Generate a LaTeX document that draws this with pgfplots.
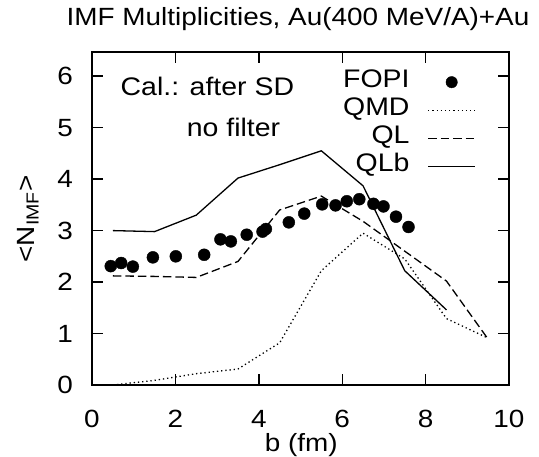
\documentclass[border=0pt]{standalone}
\usepackage{fontspec}
\setmainfont{Liberation Sans}[FakeStretch=1.12]
\usepackage{pgfplots}
\pgfplotsset{compat=1.18}
\begin{document}
\begin{tikzpicture}
\begin{axis}[
  name=ax,
  scale only axis,
  width=417bp, height=333bp,
  xmin=0, xmax=10, ymin=0, ymax=6.47,
  xtick={0,2,4,6,8,10}, ytick={0,1,2,3,4,5,6},
  minor tick num=0,
  tick align=inside,
  major tick length=11bp,
  axis line style={line width=1.5bp},
  every tick/.style={line width=1.4bp, black},
  /pgf/number format/assume math mode=true,
  tick label style={font=\fontsize{25}{30}\selectfont, inner sep=0pt},
  xticklabel style={anchor=base, yshift=-42bp},
  yticklabel style={anchor=east, xshift=-19bp},
  xlabel={b (fm)},
  ylabel={<N\textsubscript{IMF}>},
  label style={font=\fontsize{25}{30}\selectfont, inner sep=0pt},
  xlabel style={at={(rel axis cs:0.502,0)}, anchor=base, yshift=-66bp},
  ylabel style={at={(rel axis cs:-0.1367,0.4985)}, anchor=base},
  title={IMF Multiplicities, Au(400 MeV/A)+Au},
  title style={font=\fontsize{25}{30}\selectfont, inner sep=0pt, at={(rel axis cs:0.494,1)}, anchor=base, yshift=21bp},
  legend style={draw=none, fill=none, inner sep=0pt, at={(rel axis cs:0.9209,0.952)}, anchor=north east,
    font=\fontsize{25.5}{30}\selectfont, row sep=0pt, column sep=18bp,
    nodes={inner sep=0pt, text height=19bp, text depth=9bp}},
  legend cell align=right,
  legend plot pos=right,
  legend image code/.code={\draw[#1] (0bp,0bp) -- (47bp,0bp);},
]
\addplot[only marks, mark=*, mark size=6bp, black,
  legend image code/.code={\fill[black] (23.5bp,0bp) circle (5.7bp); \path[draw=none, fill=none] (0bp,0bp) rectangle (47bp,0.1bp);}]
coordinates {
(0.45,2.31)(0.70,2.37)(0.98,2.30)(1.46,2.48)(2.01,2.50)(2.69,2.53)
(3.08,2.83)(3.33,2.79)(3.71,2.92)(4.09,2.98)(4.17,3.03)(4.72,3.16)
(5.09,3.33)(5.52,3.51)(5.84,3.49)(6.11,3.57)(6.41,3.61)(6.75,3.52)
(6.99,3.47)(7.29,3.27)(7.59,3.07)};
\addlegendentry{FOPI}
\addplot[black, line width=1.3bp, dash pattern=on 1.3bp off 2.9bp] coordinates {
(0.5,0.0)(1.5,0.09)(2.5,0.22)(3.5,0.31)(4.5,0.82)(5.5,2.22)(6.5,2.95)(7.5,2.45)(8.5,1.29)(9.5,0.91)};
\addlegendentry{QMD}
\addplot[black, line width=1.3bp, dash pattern=on 8.5bp off 4bp] coordinates {
(0.5,2.12)(1.5,2.11)(2.5,2.09)(3.5,2.40)(4.5,3.40)(5.5,3.67)(6.5,3.18)(7.5,2.60)(8.5,2.02)(9.5,0.89)};
\addlegendentry{QL}
\addplot[black, line width=1.3bp] coordinates {
(0.5,3.0)(1.5,2.98)(2.5,3.3)(3.5,4.02)(4.5,4.28)(5.5,4.55)(6.5,3.87)(7.5,2.22)(8.5,1.46)};
\addlegendentry{QLb}
\node[anchor=base west, inner sep=0pt, font=\fontsize{25.5}{30}\selectfont] at (axis cs:0.683,5.634) {Cal.: after SD};
\node[anchor=base, inner sep=0pt, font=\fontsize{25.5}{30}\selectfont] at (axis cs:3.393,4.82) {no filter};
\end{axis}
\pgfresetboundingbox
\path[use as bounding box] (ax.south west) ++(-92bp,-72bp) rectangle ++(539bp,457bp);
\end{tikzpicture}
\end{document}
